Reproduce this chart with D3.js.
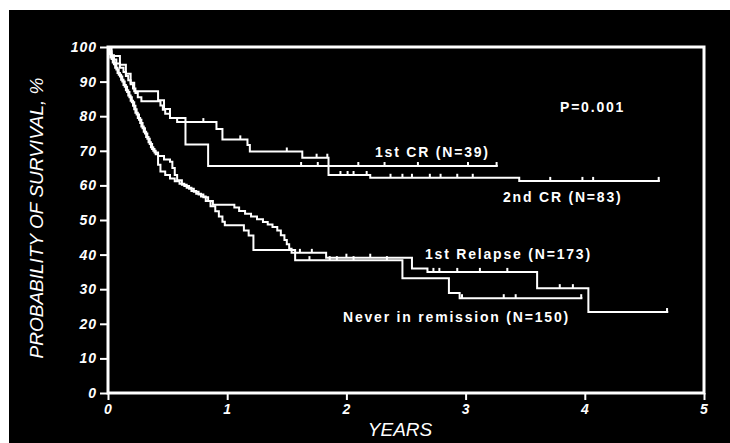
<!DOCTYPE html>
<html>
<head>
<meta charset="utf-8">
<script src="https://cdn.jsdelivr.net/npm/d3@7"></script>
<style>
  body { margin: 0; background: #fff; }
  svg { display: block; }
  .tick text { font-family: "Liberation Sans", Arial, sans-serif; font-weight: bold; font-style: italic; font-size: 14px; fill: #fff; letter-spacing: 1px; }
  .tick line { stroke: #fff; stroke-width: 2; }
  .lbl { font-family: "Liberation Sans", Arial, sans-serif; font-weight: bold; font-size: 14px; fill: #fff; letter-spacing: 1.8px; }
  .title { font-family: "Liberation Sans", Arial, sans-serif; font-style: italic; font-size: 19px; fill: #fff; }
</style>
</head>
<body>
<div id="chart"></div>
<script>
// tick labels
const yTicks = [0, 10, 20, 30, 40, 50, 60, 70, 80, 90, 100];
const xTicks = [0, 1, 2, 3, 4, 5];

// 1st CR (N=39)
const cr1Time = [0, .03, .1, .15, .19, .22, .42, .47, .52, .65, .84];
const cr1Surv = [100, 97.4, 94.9, 92.3, 89.7, 87.2, 84.6, 82.1, 79.5, 71.8, 65.6];
const cr1End = 3.27;
const cr1Censor = [1.62, 1.76, 2.1, 2.32, 2.6, 3.02, 3.26];

// 2nd CR (N=83)
const cr2Time = [0, .01, .03, .05, .07, .1, .13, .15, .17, .19, .21, .23, .25, .28, .44, .46, .48, .52, .58, .91, .96, 1.17, 1.19, 1.63, 1.85, 2.2, 3.45];
const cr2Surv = [100, 98.8, 97.6, 96.4, 95.2, 94, 92.8, 91.6, 90.4, 89.2, 88, 86.7, 85.5, 84.3, 83.1, 81.9, 80.7, 79.5, 78.3, 76.3, 73.3, 71.7, 69.8, 68, 63, 62.2, 61.3];
const cr2End = 4.63;
const cr2Censor = [.8, 1.11, 1.5, 1.75, 1.84, 1.95, 2.01, 2.06, 2.17, 2.37, 2.47, 2.55, 2.7, 2.79, 2.93, 3.06, 3.71, 3.98, 4.07, 4.62];

// 1st Relapse (N=173)
const relTime = [0, .01, .02, .04, .06, .08, .1, .12, .14, .16, .18, .2, .22, .24, .26, .28, .3, .32, .34, .36, .38, .4, .42, .44, .48, .52, .56, .6, .64, .68, .72, .76, .8, .84, .88, 1.06, 1.1, 1.15, 1.2, 1.25, 1.3, 1.34, 1.38, 1.42, 1.45, 1.48, 1.5, 1.52, 1.54, 1.83, 2.55, 2.68, 3.6, 4.03];
const relSurv = [100, 98.5, 97, 95.5, 94, 92.5, 91.5, 90, 88.5, 87, 85.5, 84, 82, 80.5, 79, 77, 75.5, 74, 72.5, 71, 70, 69, 66, 64, 63, 62, 61.2, 60.5, 59.8, 59, 58.2, 57.4, 56.6, 55.5, 54.4, 53.6, 52.6, 51.8, 51, 50.2, 49.4, 48.7, 48, 47, 45.6, 44.2, 43, 41.7, 40.5, 39.1, 36, 35, 30.3, 23.4];
const relEnd = 4.7;
const relCensor = [1.61, 1.71, 2.0, 2.2, 2.73, 2.78, 2.93, 3.12, 3.35, 3.79, 3.9, 4.69];

// Never in remission (N=150)
const nevTime = [0, .015, .03, .05, .07, .09, .11, .13, .15, .17, .19, .21, .23, .25, .27, .29, .31, .33, .35, .37, .39, .42, .47, .52, .54, .56, .58, .62, .66, .7, .74, .78, .82, .86, .9, .93, .96, .98, 1.14, 1.18, 1.22, 1.57, 2.47, 2.86, 2.95];
const nevSurv = [100, 98, 96.5, 95, 93.5, 92, 90.5, 89, 87.5, 86, 84.5, 83, 81, 79.5, 78, 76.5, 75, 73.5, 72, 70.5, 69.5, 68.5, 67.5, 66.8, 65, 63, 61.5, 60.2, 59.3, 58.4, 57.6, 56.8, 55.5, 54, 52.5, 51, 49.5, 48.5, 47, 45.5, 41.3, 38.4, 33.2, 28.9, 27.4];
const nevEnd = 3.98;
const nevCensor = [1.69, 1.86, 1.92, 2.06, 2.34, 2.97, 3.32, 3.42, 3.97];

const width = 730, height = 443;
const svg = d3.select("#chart").append("svg")
    .attr("width", width)
    .attr("height", height);

svg.append("rect")
    .attr("x", 9).attr("y", 10)
    .attr("width", width - 9).attr("height", height - 10)
    .attr("fill", "#000");

const x = d3.scaleLinear().domain([0, 5]).range([108, 704]);
const y = d3.scaleLinear().domain([0, 100]).range([393, 47]);

// axes
svg.append("g")
    .attr("transform", "translate(108,0)")
    .call(d3.axisLeft(y).tickValues(yTicks).tickSize(8).tickPadding(3).tickFormat(d3.format("d")))
    .call(g => g.select(".domain").remove());

svg.append("g")
    .attr("transform", "translate(0,393)")
    .call(d3.axisBottom(x).tickValues(xTicks).tickSize(7).tickPadding(4).tickFormat(d3.format("d")))
    .call(g => g.select(".domain").remove());

// frame
svg.append("rect")
    .attr("x", x(0)).attr("y", y(100))
    .attr("width", x(5) - x(0)).attr("height", y(0) - y(100))
    .attr("fill", "none")
    .attr("stroke", "#fff")
    .attr("stroke-width", 3);

const curves = [
    {time: cr1Time, surv: cr1Surv, end: cr1End, censor: cr1Censor},
    {time: cr2Time, surv: cr2Surv, end: cr2End, censor: cr2Censor},
    {time: relTime, surv: relSurv, end: relEnd, censor: relCensor},
    {time: nevTime, surv: nevSurv, end: nevEnd, censor: nevCensor}
];

const line = d3.line()
    .x(d => x(d[0]))
    .y(d => y(d[1]))
    .curve(d3.curveStepAfter);

curves.forEach(function(c) {
    let pts = c.time.map((t, i) => [t, c.surv[i]]);
    pts.push([c.end, c.surv[c.surv.length - 1]]);

    svg.append("path")
        .datum(pts)
        .attr("d", line)
        .attr("fill", "none")
        .attr("stroke", "#fff")
        .attr("stroke-width", 2);

    // censored marks
    svg.append("g")
        .selectAll("line")
        .data(c.censor)
        .enter()
        .append("line")
        .attr("x1", d => x(d)).attr("x2", d => x(d))
        .attr("y1", d => y(c.surv[d3.bisectRight(c.time, d) - 1]))
        .attr("y2", d => y(c.surv[d3.bisectRight(c.time, d) - 1]) - 4)
        .attr("stroke", "#fff")
        .attr("stroke-width", 2);
});

// labels
const labels = [
    {text: "P=0.001", x: 560, y: 112},
    {text: "1st CR (N=39)", x: 375, y: 157},
    {text: "2nd CR (N=83)", x: 503, y: 202},
    {text: "1st Relapse (N=173)", x: 425, y: 259},
    {text: "Never in remission (N=150)", x: 343, y: 322}
];
svg.append("g")
    .selectAll("text")
    .data(labels)
    .enter()
    .append("text")
    .attr("class", "lbl")
    .attr("x", d => d.x)
    .attr("y", d => d.y)
    .text(d => d.text);

svg.append("text")
    .attr("class", "title")
    .attr("transform", "translate(43,218) rotate(-90)")
    .attr("text-anchor", "middle")
    .text("PROBABILITY OF SURVIVAL, %");

svg.append("text")
    .attr("class", "title")
    .attr("x", 400).attr("y", 436)
    .attr("text-anchor", "middle")
    .text("YEARS");
</script>
</body>
</html>
